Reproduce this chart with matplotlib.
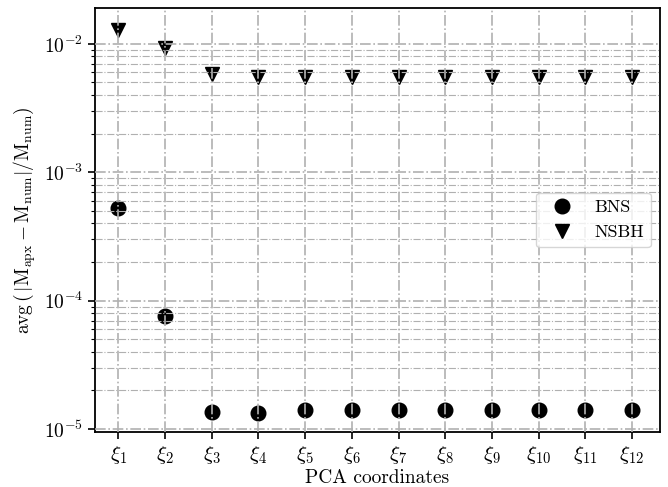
import matplotlib
matplotlib.use("Agg")
import matplotlib.pyplot as plt
import numpy as np

plt.rcParams['font.family'] = 'serif'
plt.rcParams['font.serif'] = ['cmr10']
plt.rcParams['mathtext.fontset'] = 'cm'
plt.rcParams['axes.formatter.use_mathtext'] = True
plt.rcParams['font.size'] = 14

coords = np.arange(1, 13)
xlabels = [r'$\xi_{%d}$' % i for i in coords]
bns = [5.3e-4, 7.6e-5, 1.36e-5, 1.34e-5, 1.42e-5, 1.42e-5,
       1.42e-5, 1.42e-5, 1.42e-5, 1.42e-5, 1.42e-5, 1.42e-5]
nsbh = [1.28e-2, 9.2e-3, 5.8e-3, 5.5e-3, 5.5e-3, 5.5e-3,
        5.5e-3, 5.5e-3, 5.5e-3, 5.5e-3, 5.5e-3, 5.5e-3]

fig = plt.figure(figsize=(6.68, 4.87), dpi=100)
ax = fig.add_axes([95/668, 1-432/487, 565/668, 424/487])

ax.plot(coords, bns, 'o', color='k', markersize=10.5, label='BNS')
ax.plot(coords, nsbh, 'v', color='k', markersize=10.5, label='NSBH')

ax.set_yscale('log')
ax.set_ylim(0.95e-5, 1.9e-2)
ax.set_xlim(0.5, 12.6)
ax.set_xticks(coords)
ax.set_xticklabels(xlabels, fontsize=15)
ax.set_xlabel('PCA coordinates', labelpad=2)
ax.set_ylabel(r'avg$\,(\,|\mathrm{M_{apx}} - \mathrm{M_{num}}|/\mathrm{M_{num}})$', labelpad=4)

ax.set_axisbelow(False)
ax.grid(True, which='major', color='#b0b0b0', linestyle='-.', linewidth=1.2)
ax.grid(True, which='minor', axis='y', color='#b0b0b0', linestyle='-.', linewidth=0.8)
for s in ax.spines.values():
    s.set_linewidth(1.3)
ax.tick_params(which='major', length=5, width=1.2)
ax.tick_params(which='minor', length=3, width=0.8)

leg = ax.legend(loc='center right', fontsize=13, borderaxespad=0.5)
leg.set_zorder(5)

fig.savefig('out.png', dpi=100)
